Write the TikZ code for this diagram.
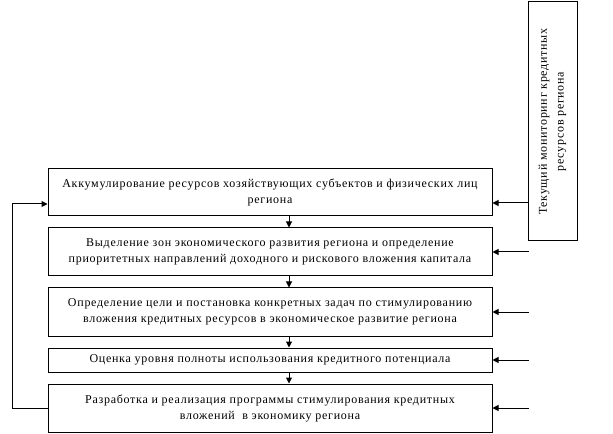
\documentclass[tikz,border=0pt]{standalone}
\usepackage{fontspec}
\setmainfont{Liberation Serif}
\newfontfamily\spacedserif[LetterSpace=6]{Liberation Serif}
\usetikzlibrary{arrows.meta,calc}

\begin{document}
\begin{tikzpicture}[x=0.75pt,y=-0.75pt,line width=0.75pt,
  stage/.style={draw,minimum width=444*0.75pt,inner sep=1pt,font=\spacedserif\fontsize{9}{12}\selectfont,align=center},
  link/.style={-{Triangle[length=4.5pt,width=4.5pt]}}]
  \useasboundingbox (0,0) rectangle (613,434);
  % Stages of the mechanism
  \node[stage,minimum height=47*0.75pt] (accum) at (270,192.5) {Аккумулирование ресурсов хозяйствующих субъектов и физических лиц\\региона};
  \node[stage,minimum height=48*0.75pt] (zones) at (270,252) {Выделение зон экономического развития региона и определение\\приоритетных направлений доходного и рискового вложения капитала};
  \node[stage,minimum height=48*0.75pt] (goals) at (270,312) {Определение цели и постановка конкретных задач по стимулированию\\вложения кредитных ресурсов в экономическое развитие региона};
  \node[stage,minimum height=24*0.75pt] (assess) at (270,360) {Оценка уровня полноты использования кредитного потенциала};
  \node[stage,minimum height=48*0.75pt] (program) at (270,408) {Разработка и реализация программы стимулирования кредитных\\вложений \ в экономику региона};
  % Monitoring
  \node[draw,minimum width=239*0.75pt,minimum height=49*0.75pt,rotate=90,inner sep=1pt,
    font=\spacedserif\fontsize{9}{12.5}\selectfont,align=center] (monitor) at (552.5,121.5) {Текущий мониторинг кредитных\\ресурсов региона};
  % Flow down
  \coordinate (col) at (289,0);
  \draw[link] (accum.south -| col) -- (zones.north -| col);
  \draw[link] (zones.south -| col) -- (goals.north -| col);
  \draw[link] (goals.south -| col) -- (assess.north -| col);
  \draw[link] (assess.south -| col) -- (program.north -| col);
  % Monitoring inputs
  \coordinate (mon) at (529,0);
  \coordinate (accin) at (0,203);
  \draw[link] (accin -| monitor.north) -- (accin -| accum.east);
  \draw[link] (zones.east -| mon) -- (zones.east);
  \draw[link] (goals.east -| mon) -- (goals.east);
  \draw[link] (assess.east -| mon) -- (assess.east);
  \draw[link] (program.east -| mon) -- (program.east);
  % Feedback loop
  \coordinate (loop) at (12,204);
  \draw[link] (program.west) -| (loop) -- (loop -| accum.west);
\end{tikzpicture}
\end{document}
